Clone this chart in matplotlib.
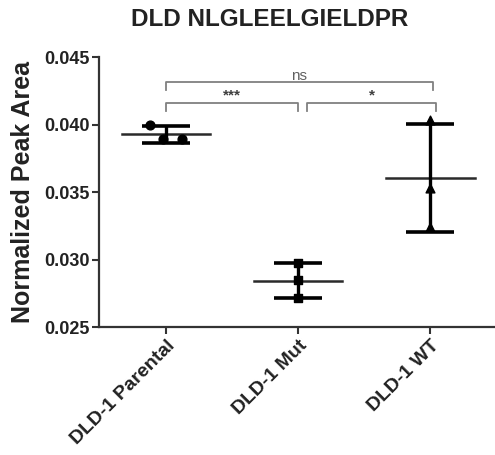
import numpy as np
import matplotlib
matplotlib.use("Agg")
import matplotlib.pyplot as plt

plt.rcParams['font.family'] = ['Liberation Sans', 'DejaVu Sans']

title = "DLD NLGLEELGIELDPR"
ylabel = "Normalized Peak Area"
categories = ["DLD-1 Parental", "DLD-1 Mut", "DLD-1 WT"]
parental = [0.0400, 0.0389, 0.0389]
mut = [0.02972, 0.02848, 0.02713]
wt = [0.04033, 0.03527, 0.03243]
groups = [parental, mut, wt]
yticks = [0.025, 0.030, 0.035, 0.040, 0.045]
ytick_labels = ["0.025", "0.030", "0.035", "0.040", "0.045"]
comparisons = [(0, 2, "ns"), (0, 1, "***"), (1, 2, "*")]

# styling / layout
markers = ["o", "s", "^"]
jitter = [[-0.12, -0.02, 0.12], [0, 0, 0], [0, 0, 0]]
bracket_levels = [0.04317, 0.04161, 0.04161]
bracket_drop = 0.00063
bracket_x = [(0.0, 2.02), (0.0, 1.0), (1.07, 2.04)]

fig = plt.figure(figsize=(4.95, 4.55), dpi=100)
ax = fig.add_axes([0.2, 0.2813, 0.8, 0.5934])

for i, vals in enumerate(groups):
    vals = np.array(vals)
    m = vals.mean()
    sd = vals.std(ddof=1)
    ax.plot([i - 0.335, i + 0.335], [m, m], color="#2a2a2a", lw=1.8, zorder=3)
    ax.errorbar([i], [m], yerr=[[sd], [sd]], fmt="none", ecolor="black",
                elinewidth=2.4, capsize=17, capthick=2.6, zorder=4)
    xs = [i + j for j in jitter[i]]
    ax.scatter(xs, vals, marker=markers[i], s=40, color="black", zorder=5)

for (a, b, lab), lvl, (x0, x1) in zip(comparisons, bracket_levels, bracket_x):
    ax.plot([x0, x0, x1, x1], [lvl - bracket_drop, lvl, lvl, lvl - bracket_drop],
            color="#808080", lw=1.3, clip_on=False, zorder=2)
    if lab == "ns":
        ax.text((x0 + x1) / 2, lvl - 0.0001, lab, ha="center", va="bottom",
                fontsize=11, color="#606060")
    else:
        ax.text((x0 + x1) / 2, lvl + 0.00005, lab, ha="center", va="bottom",
                fontsize=11, color="#404040", fontweight="bold")

ax.set_xlim(-0.508, 2.49)
ax.set_ylim(0.025, 0.045)
ax.set_yticks(yticks)
ax.set_yticklabels(ytick_labels, fontsize=13, fontweight="bold", color="#222222")
ax.set_xticks(range(len(categories)))
ax.set_xticklabels(categories, rotation=45, ha="right", va="top",
                   rotation_mode="anchor", fontsize=14, fontweight="bold",
                   color="#222222")

for s in ["top", "right"]:
    ax.spines[s].set_visible(False)
for s in ["left", "bottom"]:
    ax.spines[s].set_linewidth(1.6)
    ax.spines[s].set_color("#333333")
ax.tick_params(axis="both", length=5, width=1.5, color="#333333", pad=2)

ax.set_ylabel(ylabel, fontsize=18, fontweight="bold", labelpad=6, color="#222222")
fig.text(0.545, 0.958, title, ha="center", va="center", fontsize=17.5,
         fontweight="bold", color="#222222")

fig.savefig("out.png", dpi=100, facecolor="white")
